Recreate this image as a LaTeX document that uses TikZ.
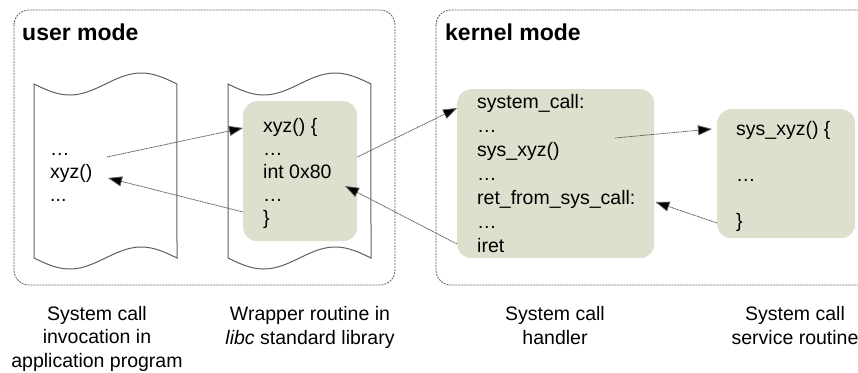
\documentclass[tikz,border=0pt]{standalone}
\usepackage{fontspec}
\setmainfont{Liberation Sans}
\usetikzlibrary{arrows.meta}
\definecolor{codefill}{RGB}{221,224,204}
\definecolor{edge}{RGB}{95,95,95}
\tikzset{
  modebox/.style={draw=edge, line width=0.8pt, dash pattern=on 2pt off 1pt, rounded corners=15pt},
  modetitle/.style={font=\fontsize{23}{26}\selectfont\bfseries, anchor=base west, inner sep=0pt},
  codebox/.style={fill=codefill, rounded corners=14pt, anchor=north west, inner sep=0pt},
  % multi-line nodes: the base anchor sits on the last line
  code/.style={font=\fontsize{19.5}{23}\selectfont, align=left, anchor=base west, inner sep=0pt},
  caption/.style={font=\fontsize{19.5}{23.5}\selectfont, align=center, anchor=base, inner sep=0pt},
  paper/.style={draw=edge, line width=1pt, fill=white},
  flow/.style={draw=black!65, line width=0.8pt, dash pattern=on 1.2pt off 0.6pt,
    -{Triangle[length=14pt,width=10pt,fill=black]}},
}
\begin{document}
\begin{tikzpicture}[x=1pt, y=-1pt]
  \useasboundingbox (0,0) rectangle (858,372);

  % user / kernel regions
  \draw[modebox] (14,10) rectangle (395,285);
  \draw[modebox] (436,10) rectangle (880,285);
  \node[modetitle] (usertitle) at (22,40) {user mode};
  \node[modetitle] (kerneltitle) at (445,40) {kernel mode};

  % wavy sheets for the program and the library
  \foreach \lx in {34,228} {
    \draw[paper]
      plot[domain=0:1, samples=41] ({\lx+143*\x}, {84+11*sin(360*\x)})
      -- plot[domain=1:0, samples=41] ({\lx+143*\x}, {258+11*sin(360*\x)})
      -- cycle;
  }

  % code blocks
  \node[codebox, minimum width=114, minimum height=140] (wrap) at (243,101) {};
  \node[codebox, minimum width=197, minimum height=169] (handler) at (457,89) {};
  \node[codebox, minimum width=138, minimum height=129] (service) at (717,109) {};

  \node[code] (apptext) at (50,201) {…\\xyz()\\...};
  \node[code] (wraptext) at (263,224) {xyz() \{\\…\\int 0x80\\…\\\}};
  \node[code, font=\fontsize{19.5}{24}\selectfont] (handlertext) at (477,252)
    {system\_call:\\…\\sys\_xyz()\\…\\ret\_from\_sys\_call:\\…\\iret};
  \node[code] (servicetext) at (736,227) {sys\_xyz() \{\\[23pt]…\\[23pt]\}};

  % captions
  \node[caption] (cap1) at (97,367) {System call\\invocation in\\application program};
  \node[caption] (cap2) at (310,344) {Wrapper routine in\\\textit{libc} standard library};
  \node[caption] (cap3) at (555,344) {System call\\handler};
  \node[caption] (cap4) at (795,344) {System call\\service routine};

  % call and return paths
  \coordinate (callsite) at (107,157);
  \coordinate (retsite) at (108,178);
  \coordinate (trapsite) at (345,186);
  \coordinate (dispatch) at (615,138);
  \draw[flow] (callsite) -- (wrap.west |- 0,128);
  \draw[flow] (wrap.west |- 0,212) -- (retsite);
  \draw[flow] (wrap.east |- 0,157) -- (handler.west |- 0,108);
  \draw[flow] (handler.west |- 0,244) -- (trapsite);
  \draw[flow] (dispatch) -- ([xshift=-5pt]service.west |- 0,129);
  \draw[flow] (service.west |- 0,223) -- ([xshift=1pt]handler.east |- 0,202);
\end{tikzpicture}
\end{document}
